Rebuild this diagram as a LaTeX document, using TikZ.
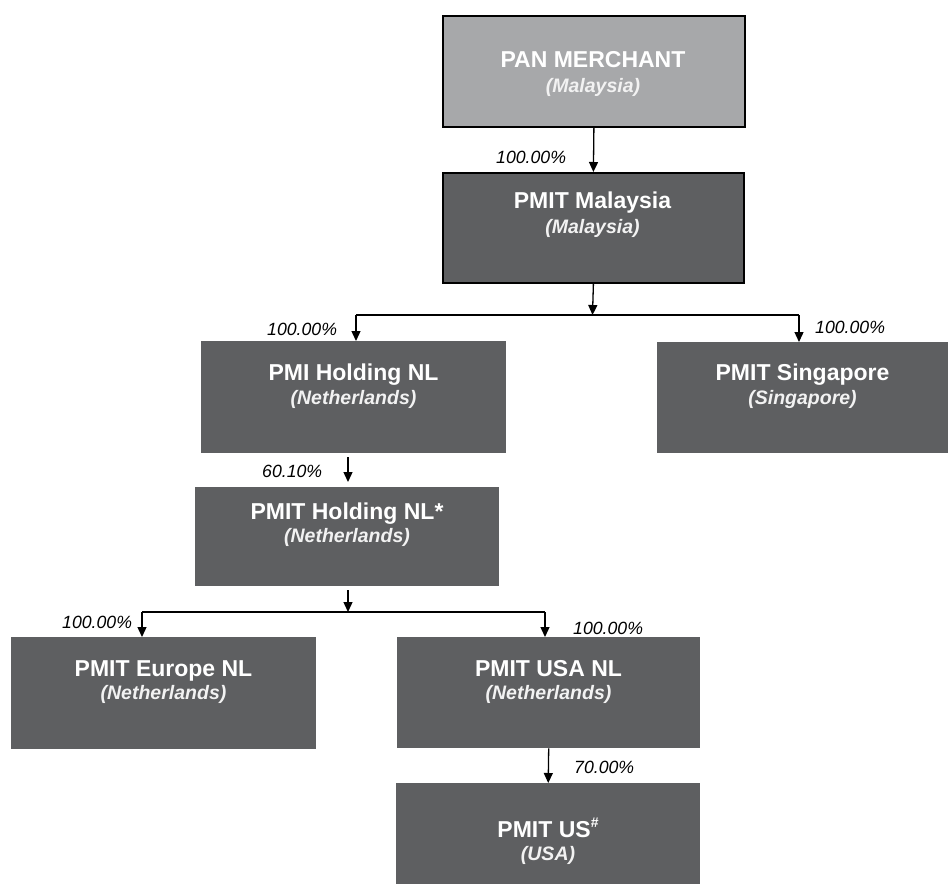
\documentclass[tikz,border=0pt]{standalone}
\usepackage{fontspec}
\setmainfont{Liberation Sans}
\usetikzlibrary{arrows.meta}
\definecolor{boxdark}{HTML}{5E5F61}
\definecolor{boxlight}{HTML}{A7A8AA}
\definecolor{subtxt}{HTML}{F2F2F2}
\begin{document}
\begin{tikzpicture}[x=1pt,y=-1pt,
  entity/.style={fill=boxdark, draw=none, inner sep=0pt, anchor=north west},
  topentity/.style={entity, draw=black, line width=1.8pt},
  titletext/.style={anchor=base, inner sep=0pt, text=white, font=\fontsize{23}{25}\selectfont\bfseries},
  subtext/.style={anchor=base, inner sep=0pt, text=subtxt, font=\fontsize{19.5}{21}\selectfont\bfseries\itshape},
  pct/.style={anchor=base west, inner sep=0pt, text=black, font=\fontsize{17.7}{19}\selectfont\itshape},
  conn/.style={draw=black, line width=1.3pt, -{Triangle[length=10pt,width=9pt]}},
  plainline/.style={draw=black, line width=1.3pt}]
\useasboundingbox (0,0) rectangle (948,884);

% boxes
\node[topentity, fill=boxlight, minimum width=302pt, minimum height=111pt] (pan) at (442,15) {};
\node[topentity, minimum width=301pt, minimum height=110pt] (mal) at (442,172) {};
\node[entity, minimum width=305pt, minimum height=112pt] (pmihold) at (201,341) {};
\node[entity, minimum width=291pt, minimum height=111pt] (sing) at (657,342) {};
\node[entity, minimum width=304pt, minimum height=99pt] (pmithold) at (195,487) {};
\node[entity, minimum width=305pt, minimum height=112pt] (eur) at (11,637) {};
\node[entity, minimum width=303pt, minimum height=111pt] (usanl) at (397,637) {};
\node[entity, minimum width=304pt, minimum height=101pt] (us) at (396,783) {};

% texts
\node[titletext] (panT) at (593,67) {PAN MERCHANT};
\node[subtext] (panS) at (593,92) {(Malaysia)};
\node[titletext] (malT) at (592.5,208) {PMIT Malaysia};
\node[subtext] (malS) at (592.5,233) {(Malaysia)};
\node[titletext] (pmiholdT) at (353.5,380) {PMI Holding NL};
\node[subtext] (pmiholdS) at (353.5,404) {(Netherlands)};
\node[titletext] (singT) at (802.5,380) {PMIT Singapore};
\node[subtext] (singS) at (802.5,404) {(Singapore)};
\node[titletext] (pmitholdT) at (347,519) {PMIT Holding NL*};
\node[subtext] (pmitholdS) at (347,542) {(Netherlands)};
\node[titletext] (eurT) at (163.5,676) {PMIT Europe NL};
\node[subtext] (eurS) at (163.5,699) {(Netherlands)};
\node[titletext] (usanlT) at (548.5,676) {PMIT USA NL};
\node[subtext] (usanlS) at (548.5,699) {(Netherlands)};
\node[titletext] (usT) at (548,837) {PMIT US\raisebox{0.4em}{\fontsize{14}{14}\selectfont\bfseries\#}};
\node[subtext] (usS) at (548,860) {(USA)};

% connectors
\draw[conn] (pan.south) -- (mal.north);

\coordinate (b1) at (592.5,315);
\coordinate (b1l) at (356,315);
\coordinate (b1r) at (799,315);
\draw[conn] (mal.south) -- (b1);
\draw[plainline] (b1l) -- (b1r);
\draw[conn] (b1l) -- (b1l |- pmihold.north);
\draw[conn] (b1r) -- (b1r |- sing.north);

\coordinate (xa) at (348,0);
\draw[conn, shorten <=4pt, shorten >=5pt] (xa |- pmihold.south) -- (xa |- pmithold.north);

\coordinate (b2) at (348,612);
\coordinate (b2l) at (142,612);
\coordinate (b2r) at (545,612);
\draw[conn, shorten <=4pt] (xa |- pmithold.south) -- (b2);
\draw[plainline] (b2l) -- (b2r);
\draw[conn] (b2l) -- (b2l |- eur.north);
\draw[conn] (b2r) -- (b2r |- usanl.north);

\draw[conn] (usanl.south) -- (us.north);

% percentages
\node[pct] (p1) at (496,163) {100.00\%};
\node[pct] (p2) at (267,335) {100.00\%};
\node[pct] (p3) at (815,333) {100.00\%};
\node[pct] (p4) at (262,477) {60.10\%};
\node[pct] (p5) at (62,628) {100.00\%};
\node[pct] (p6) at (573,634) {100.00\%};
\node[pct] (p7) at (574,773) {70.00\%};
\end{tikzpicture}
\end{document}
